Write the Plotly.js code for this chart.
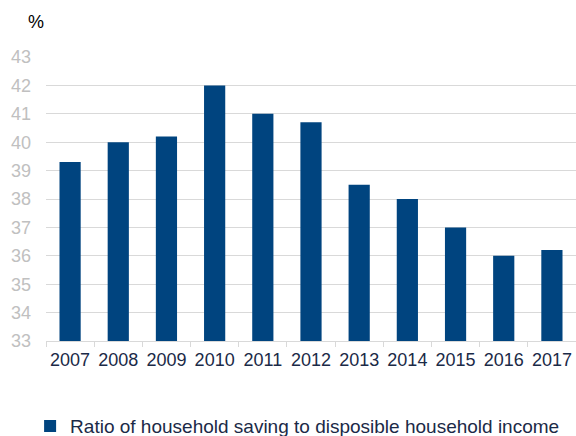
<!DOCTYPE html>
<html><head><meta charset="utf-8">
<script src="https://cdn.plot.ly/plotly-3.0.1.min.js"></script>
<style>html,body{margin:0;padding:0;background:#fff}#c{width:576px;height:436px}</style>
</head><body><div id="c"></div>
<script>
const years = ['2007','2008','2009','2010','2011','2012','2013','2014','2015','2016','2017'];
const savingRatio = [39.3, 40.0, 40.2, 42.0, 41.0, 40.7, 38.5, 38.0, 37.0, 36.0, 36.2];
const seriesName = 'Ratio of household saving to disposible household income';
const yTicks = [33,34,35,36,37,38,39,40,41,42,43];

const font = 'Liberation Sans, Arial, sans-serif';
Plotly.newPlot('c', [{
  type: 'bar', x: years, y: savingRatio, name: seriesName,
  marker: {color: '#00447F'}, showlegend: true
}], {
  width: 576, height: 436,
  margin: {l: 46, r: 0, t: 57, b: 95, autoexpand: false},
  paper_bgcolor: '#fff', plot_bgcolor: '#fff',
  bargap: 0.56,
  font: {family: font},
  xaxis: {
    type: 'category', showgrid: false, showline: true, linecolor: '#d9d9d9', linewidth: 1,
    ticks: 'outside', tickson: 'boundaries', ticklen: 5, tickcolor: '#d9d9d9',
    tickangle: 0, automargin: false, ticklabelstandoff: 2,
    tickfont: {size: 18, color: '#1b2a47', family: font}
  },
  yaxis: {
    range: [33, 43], tickvals: yTicks, showgrid: true, gridcolor: '#d9d9d9', gridwidth: 1,
    zeroline: false, showline: false, ticks: '', ticklabelstandoff: 14, automargin: false,
    tickfont: {size: 18, color: '#c0c0c0', family: font}
  },
  legend: {orientation: 'h', x: -0.03, xanchor: 'left', y: -0.3, yanchor: 'middle',
    font: {size: 19, color: '#1b2a47', family: font}, itemwidth: 30},
  annotations: [{text: '%', xref: 'paper', yref: 'paper', x: -0.019, y: 1.123,
    xanchor: 'center', yanchor: 'middle', showarrow: false,
    font: {size: 18, color: '#000', family: font}}]
}, {displayModeBar: false, staticPlot: true});
</script></body></html>
